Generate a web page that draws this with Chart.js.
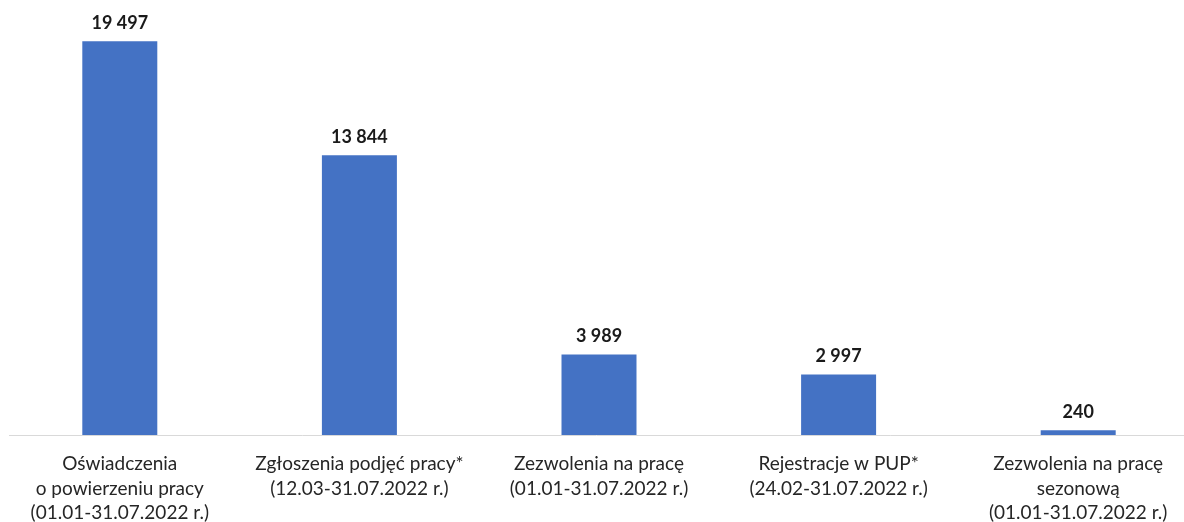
<!DOCTYPE html>
<html>
<head>
<meta charset="utf-8">
<script src="https://cdn.jsdelivr.net/npm/chart.js@4/dist/chart.umd.min.js"></script>
<style>
  html, body { margin: 0; padding: 0; background: #fff; overflow: hidden; }
  #wrap { position: absolute; left: 0; top: 0; width: 1198px; height: 522px; }
</style>
</head>
<body>
<div id="wrap"><canvas id="c"></canvas></div>
<script>
const categories = [
  ["Oświadczenia", "o powierzeniu pracy", "(01.01-31.07.2022 r.)"],
  ["Zgłoszenia podjęć pracy*", "(12.03-31.07.2022 r.)"],
  ["Zezwolenia na pracę", "(01.01-31.07.2022 r.)"],
  ["Rejestracje w PUP*", "(24.02-31.07.2022 r.)"],
  ["Zezwolenia na pracę", "sezonową", "(01.01-31.07.2022 r.)"]
];
const values = [19497, 13844, 3989, 2997, 240];

function fmt(v) {
  return String(v).replace(/\B(?=(\d{3})+(?!\d))/g, " ");
}

const valueLabels = {
  id: 'valueLabels',
  afterDatasetsDraw(chart) {
    const ctx = chart.ctx;
    const meta = chart.getDatasetMeta(0);
    ctx.save();
    ctx.font = "bold 18px Lato";
    ctx.fillStyle = "#1a1a1a";
    ctx.textAlign = "center";
    ctx.textBaseline = "alphabetic";
    meta.data.forEach((bar, i) => {
      ctx.fillText(fmt(values[i]), bar.x, bar.y - 12);
    });
    ctx.restore();
  }
};

const baseline = {
  id: 'baseline',
  beforeDatasetsDraw(chart) {
    const ctx = chart.ctx;
    const y = chart.scales.y.getPixelForValue(0);
    ctx.save();
    ctx.strokeStyle = "#d9d9d9";
    ctx.lineWidth = 1;
    ctx.beginPath();
    ctx.moveTo(9, Math.round(y) + 0.5);
    ctx.lineTo(1184, Math.round(y) + 0.5);
    ctx.stroke();
    ctx.restore();
  }
};

new Chart(document.getElementById('c'), {
  type: 'bar',
  data: {
    labels: categories,
    datasets: [{
      data: values,
      backgroundColor: '#4472C4',
      borderWidth: 0,
      barPercentage: 0.313,
      categoryPercentage: 1
    }]
  },
  options: {
    responsive: true,
    maintainAspectRatio: false,
    animation: false,
    layout: { padding: { top: 31, left: 0, right: 0, bottom: 0 } },
    plugins: { legend: { display: false }, tooltip: { enabled: false } },
    scales: {
      x: {
        grid: { display: false, drawTicks: false },
        border: { display: false },
        afterFit(scale) { scale.height = 87; },
        ticks: {
          color: '#262626',
          font: { family: 'Lato', size: 19, lineHeight: '24.5px' },
          padding: 17,
          maxRotation: 0,
          autoSkip: false
        }
      },
      y: {
        display: false,
        min: 0,
        max: 20000
      }
    }
  },
  plugins: [baseline, valueLabels]
});
</script>
</body>
</html>
